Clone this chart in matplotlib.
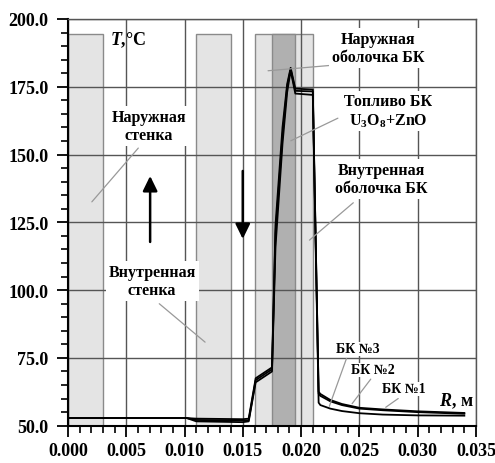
import matplotlib
matplotlib.use("Agg")
import matplotlib.pyplot as plt
from matplotlib.patches import Rectangle
from matplotlib.ticker import MultipleLocator, FormatStrFormatter

plt.rcParams['font.family'] = ['Liberation Serif', 'DejaVu Serif']
plt.rcParams['font.weight'] = 'bold'
plt.rcParams['mathtext.fontset'] = 'custom'
plt.rcParams['mathtext.rm'] = 'Liberation Serif:bold'
plt.rcParams['mathtext.bf'] = 'Liberation Serif:bold'
plt.rcParams['mathtext.it'] = 'Liberation Serif:bold:italic'

# Data
r = [0.0, 0.0102, 0.0110, 0.0150, 0.0155, 0.0161, 0.0175, 0.0178, 0.0184, 0.0188,
     0.0191, 0.0195, 0.0210, 0.0215, 0.02165, 0.0225, 0.0235, 0.025, 0.027, 0.030, 0.034]
t_bk1 = [52.8, 52.8, 52.6, 52.4, 52.6, 67.5, 71.5, 124, 160, 176, 182, 174.3, 174.0,
         62.5, 61.7, 59.5, 58.0, 56.6, 56.0, 55.3, 54.7]
t_bk2 = [52.8, 52.8, 52.1, 51.9, 52.0, 66.8, 70.8, 121, 157, 175, 181.5, 173.5, 173.3,
         61.8, 61.0, 59.0, 57.6, 56.3, 55.7, 55.0, 54.4]
t_bk3 = [52.8, 52.8, 51.6, 51.3, 51.6, 66.0, 70.0, 116, 154, 173, 181, 172.5, 172.0,
         58.5, 57.6, 56.3, 55.4, 54.6, 54.1, 53.8, 53.7]

# Zones (start, end) in m
light_zones = [(0.0, 0.003), (0.011, 0.014), (0.016, 0.021)]
dark_zones = [(0.0175, 0.0195)]
zone_top = 194.5

fig = plt.figure(figsize=(4.95, 4.64), dpi=100)
ax = fig.add_axes([0.1374, 0.0804, 0.8242, 0.8765])
ax.set_xlim(0, 0.035)
ax.set_ylim(50, 200)

for a, b in light_zones:
    ax.add_patch(Rectangle((a, 50), b - a, zone_top - 50, facecolor='#e4e4e4',
                           edgecolor='#8a8a8a', lw=1.0, zorder=1))
for a, b in dark_zones:
    ax.add_patch(Rectangle((a, 50), b - a, zone_top - 50, facecolor='#b0b0b0',
                           edgecolor='#8a8a8a', lw=1.0, zorder=1.1))

ax.set_axisbelow('line')
ax.grid(True, which='major', color='#555555', lw=1.0)

for t, ls in ((t_bk1, '-'), (t_bk2, '-'), (t_bk3, '-')):
    ax.plot(r, t, color='black', lw=1.3, ls=ls, zorder=2)

ax.xaxis.set_major_locator(MultipleLocator(0.005))
ax.xaxis.set_minor_locator(MultipleLocator(0.001))
ax.yaxis.set_major_locator(MultipleLocator(25))
ax.yaxis.set_minor_locator(MultipleLocator(5))
ax.xaxis.set_major_formatter(FormatStrFormatter('%.3f'))
ax.yaxis.set_major_formatter(FormatStrFormatter('%.1f'))
ax.tick_params(which='major', length=8, width=1.3, labelsize=13, colors='black')
ax.tick_params(which='minor', length=5, width=1.2)
ax.tick_params(axis='x', pad=4)
ax.tick_params(axis='y', pad=6)
for s in ('left', 'bottom'):
    ax.spines[s].set_linewidth(1.5)
for s in ('top', 'right'):
    ax.spines[s].set_color('#555555')
    ax.spines[s].set_linewidth(1.0)

fs = 11.5
box = dict(facecolor='white', edgecolor='none', pad=2)
lead = dict(arrowstyle='-', color='#999999', lw=0.9)

def note(txt, xy_px, target_px, start_px):
    pass

def px2d(x, y):
    return ((x - 68) / 11640.0, 200 - (y - 20) / 67.8 * 25)

ax.text(*px2d(128, 40), r'$T$,°C', fontsize=13, ha='center', va='center', zorder=4)
ax.text(*px2d(456, 401), r'$R$, м', fontsize=13, ha='center', va='center', zorder=4)

labels = [
    ("Наружная\nстенка", (149, 127), (140, 147), (90, 205)),
    ("Внутренная\nстенка", (152, 282), (157, 303), (207, 345)),
    ("Наружная\nоболочка БК", (378, 49), (335, 66), (265, 72)),
    ("Топливо БК\n" + r"U$_{3}$O$_{8}$+ZnO", (388, 112), (340, 118), (288, 143)),
    ("Внутренная\nоболочка БК", (381, 180), (355, 202), (307, 243)),
]
for txt, c, s, e in labels:
    ax.annotate('', xy=px2d(*e), xytext=px2d(*s), arrowprops=lead, zorder=3)
    ax.text(*px2d(*c), txt, fontsize=fs, ha='center', va='center',
            linespacing=1.15, bbox=box, zorder=4)

bk = [("БК №3", (357, 350), (347, 357), (328, 410)),
      ("БК №2", (372, 371), (372, 378), (350, 407)),
      ("БК №1", (403, 390), (400, 398), (383, 410))]
for txt, c, s, e in bk:
    ax.annotate('', xy=px2d(*e), xytext=px2d(*s), arrowprops=lead, zorder=3)
    ax.text(*px2d(*c), txt, fontsize=10, ha='center', va='center', zorder=4,
            bbox=dict(facecolor='white', edgecolor='none', pad=0.5))

arrow = dict(arrowstyle='-|>,head_length=0.45,head_width=0.22', color='black',
             lw=1.8, mutation_scale=20, shrinkA=0, shrinkB=0)
ax.annotate('', xy=px2d(150, 177), xytext=px2d(150, 243), arrowprops=arrow, zorder=4)
ax.annotate('', xy=px2d(242.5, 240), xytext=px2d(242.5, 172), arrowprops=arrow, zorder=4)

fig.savefig('out.png', dpi=100)
